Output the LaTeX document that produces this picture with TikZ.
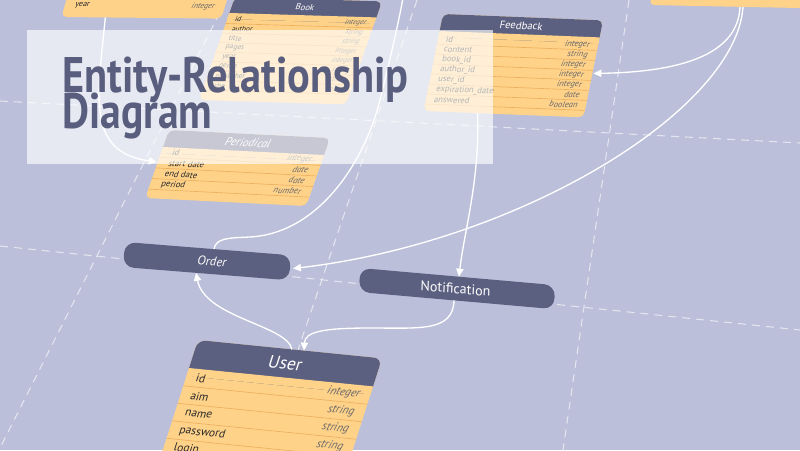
\documentclass[tikz,border=0pt]{standalone}
\usepackage{fontspec}
\setmainfont{PT Sans}
\newfontfamily\titlefont{PT Sans}
\usetikzlibrary{arrows.meta}

\definecolor{bgcol}{RGB}{187,191,217}
\definecolor{hdrcol}{RGB}{92,96,128}
\definecolor{bodycol}{RGB}{255,210,138}
\definecolor{rulecol}{RGB}{236,176,96}
\definecolor{titlecol}{RGB}{90,94,126}
\definecolor{namecol}{RGB}{40,40,40}
\definecolor{typecol}{RGB}{105,105,105}

\begin{document}
\begin{tikzpicture}[x=0.75pt,y=-0.75pt,
  gridline/.style={draw=white, draw opacity=0.6, line width=0.8pt, dash pattern=on 6pt off 4.5pt},
  link/.style={draw=white, line width=1pt},
  linkarrow/.style={link, -{Triangle[length=6pt,width=5.5pt]}},
  hdr/.style={fill=hdrcol, rounded corners=4pt},
  tbody/.style={fill=bodycol},
  rowrule/.style={draw=rulecol, line width=0.5pt},
  hdrtext/.style={text=white, inner sep=0pt, font=\fontsize{#1}{#1}\selectfont},
  fieldname/.style={anchor=west, text=namecol, inner sep=0pt, font=\fontsize{#1}{#1}\selectfont},
  fieldtype/.style={anchor=east, text=typecol, inner sep=0pt, font=\fontsize{#1}{#1}\selectfont\itshape},
]
\path[use as bounding box] (0,0) rectangle (800,450);
\clip (0,0) rectangle (800,450);
\fill[bgcol] (0,0) rectangle (800,450);

%Grid lines
\draw[gridline] (0,246) -- (800,330);
\draw[gridline] (0,101) -- (800,143);
\draw[gridline] (226,0) -- (-1,450);
\draw[gridline] (417,0) -- (264,450);
\draw[gridline] (629,0) -- (563,450);

%Top left table (cut by the border)
\begin{scope}[cm={1,-0.01,0.3,1,(70,-12)}, transform shape]
\fill[tbody, rounded corners=4pt] (0,-20) rectangle (160,29);
\draw[rowrule] (0,9) -- (160,9);
\node[fieldname=6] (tl-f1) at (10,17) {year};
\node[fieldtype=6] (tl-t1) at (150,17) {integer};
\coordinate (tl-s) at (44,29);
\end{scope}

%Top right table (cut by the border)
\begin{scope}[cm={1,-0.02,0.3,1,(655,-15)}, transform shape]
\fill[tbody, rounded corners=4pt] (0,-20) rectangle (200,20);
\coordinate (tr-a) at (91,20);
\coordinate (tr-b) at (94,20);
\end{scope}

%Book table
\begin{scope}[cm={1,-0.03,0.35,1,(235,-3)}, transform shape]
\fill[tbody, rounded corners=4pt] (0,0) rectangle (147,103);
\fill[hdr] (0,0) rectangle (147,22);
\fill[tbody] (0,16) rectangle (147,22);
\foreach \v in {26.5,36,...,93} \draw[rowrule] (0,\v) -- (147,\v);
\node[hdrtext=6.5] (bk-title) at (73,8) {Book};
\foreach \n/\t [count=\i] in {id/integer, author/string, title/string, pages/integer, year/integer, genre/string, publisher/string, isbn/string} {
  \node[fieldname=5.5] (bk-f\i) at (8,12.5+9.5*\i) {\n};
  \node[fieldtype=5.5] (bk-t\i) at (139,12.5+9.5*\i) {\t};
}
\end{scope}

%Feedback table
\begin{scope}[cm={1,-0.04,0.2,1,(443,14)}, transform shape]
\fill[tbody, rounded corners=4pt] (0,0) rectangle (160,97);
\fill[hdr] (0,0) rectangle (160,23);
\fill[tbody] (0,17) rectangle (160,23);
\foreach \v in {30,40,...,90} \draw[rowrule] (0,\v) -- (160,\v);
\node[hdrtext=8] (fb-title) at (80,8.5) {Feedback};
\foreach \n/\t [count=\i] in {id/integer, content/string, book\_id/integer, author\_id/integer, user\_id/integer, expiration\_date/date, answered/boolean} {
  \node[fieldname=6.5] (fb-f\i) at (8,15+10*\i) {\n};
  \node[fieldtype=6.5] (fb-t\i) at (152,15+10*\i) {\t};
}
\coordinate (fb-east) at (161,53);
\coordinate (fb-south) at (54,97);
\end{scope}

%Periodical table
\begin{scope}[cm={1,-0.05,0.35,1,(169,130)}, transform shape]
\fill[tbody, rounded corners=4pt] (0,0) rectangle (161,68);
\fill[hdr] (0,0) rectangle (161,23);
\fill[tbody] (0,17) rectangle (161,23);
\foreach \v in {27.3,37.9,48.5,59.1} \draw[rowrule] (0,\v) -- (161,\v);
\node[hdrtext=8.5, font=\fontsize{8.5}{8.5}\selectfont\itshape] (per-title) at (82,8.5) {Periodical};
\foreach \n/\t [count=\i] in {id/integer, start date/date, end date/date, period/number} {
  \node[fieldname=6.5] (per-f\i) at (11,11.4+10.6*\i) {\n};
  \node[fieldtype=6.5] (per-t\i) at (151,11.4+10.6*\i) {\t};
}
\coordinate (per-west) at (-1,32);
\end{scope}

%Order
\begin{scope}[cm={1,-0.08,0.08,1,(125,242)}, transform shape]
\fill[hdrcol, rounded corners=8pt] (0,0) rectangle (166,25);
\node[hdrtext=9.5, font=\fontsize{9.5}{9.5}\selectfont\itshape] (order) at (88,12.5) {Order};
\coordinate (order-east) at (169,13);
\coordinate (order-south) at (73,25);
\coordinate (order-north) at (89,0);
\end{scope}

%Notification
\begin{scope}[cm={1,-0.088,0.04,1,(360,268)}, transform shape]
\fill[hdrcol, rounded corners=8pt] (0,0) rectangle (195,24);
\node[hdrtext=10.5] (notif) at (96,12) {Notification};
\coordinate (notif-north) at (99,0);
\coordinate (notif-south) at (95,24);
\end{scope}

%User table
\begin{scope}[cm={1,-0.1,0.32,1,(198,340)}, transform shape]
\fill[tbody, rounded corners=6pt] (0,0) rectangle (184,200);
\fill[hdr, rounded corners=6pt] (0,0) rectangle (184,36);
\fill[tbody] (0,28) rectangle (184,36);
\foreach \v in {45.8,63.3,80.8,98.3,115.8} \draw[rowrule] (0,\v) -- (184,\v);
\node[hdrtext=13] (user-title) at (92,14) {User};
\foreach \n/\t [count=\i] in {id/integer, aim/string, name/string, password/string, login/string} {
  \node[fieldname=8.5] (user-f\i) at (10,19.5+17.5*\i) {\n};
  \node[fieldtype=8.5] (user-t\i) at (174,19.5+17.5*\i) {\t};
}
\coordinate (user-in) at (106,0);
\coordinate (user-out) at (94,0);
\end{scope}

%Connectors
\coordinate (up-end) at (403,-2);
\draw[linkarrow] (tr-a) .. controls (738,55) and (680,72) .. (fb-east);
\draw[linkarrow] (tr-b) .. controls (736,110) and (520,242) .. (order-east);
\draw[linkarrow] (fb-south) .. controls (480,180) and (464,232) .. (notif-north);
\draw[link] (order-north) .. controls (216,238) and (228,238) .. (250,237) .. controls (320,233) and (365,160) .. (380,100) .. controls (390,60) and (398,25) .. (up-end);
\draw[linkarrow] (notif-south) .. controls (453,332) and (420,328) .. (370,328) .. controls (322,328) and (305,332) .. (user-in);
\draw[linkarrow] (user-out) .. controls (287,325) and (205,318) .. (order-south);
\draw[linkarrow] (tl-s) .. controls (98,95) and (85,152) .. (per-west);

%Title box
\fill[white, fill opacity=0.66] (27,30) rectangle (493,164);
% Text Node
\node[anchor=base west, inner sep=0pt, text=titlecol] (title-a) at (62,92) {\resizebox{259.5pt}{\height}{\titlefont\bfseries\fontsize{37.5}{37.5}\selectfont Entity-Relationship}};
% Text Node
\node[anchor=base west, inner sep=0pt, text=titlecol] (title-b) at (62,128) {\resizebox{112.5pt}{\height}{\titlefont\bfseries\fontsize{37.5}{37.5}\selectfont Diagram}};
\end{tikzpicture}
\end{document}
